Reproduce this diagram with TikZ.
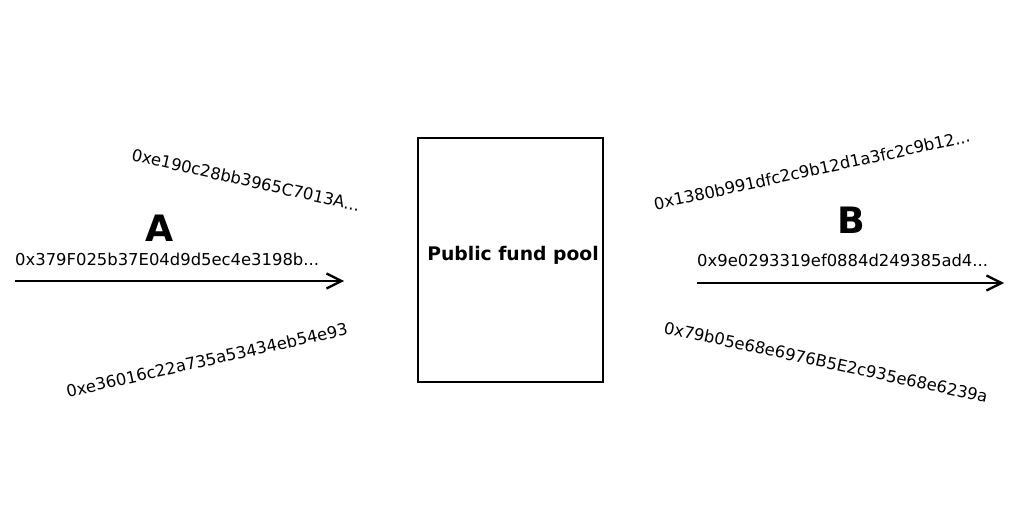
\documentclass[tikz,border=0pt]{standalone}
\usepackage{fontspec}
\setmainfont{DejaVu Sans}
\usetikzlibrary{positioning, arrows.meta}
\tikzset{
  hash/.style={inner sep=0pt, font=\fontsize{14}{16}\selectfont},
  party/.style={inner sep=0pt, font=\fontsize{31}{33}\selectfont\bfseries},
  pool/.style={draw, line width=1.5pt, minimum width=185*0.03cm, minimum height=244*0.03cm, font=\fontsize{16}{18}\selectfont\bfseries},
  flow/.style={-{Straight Barb[length=4.5mm, width=4.5mm]}, line width=2pt}
}

\begin{document}
\begin{tikzpicture}[x=0.03cm, y=-0.03cm]
  \useasboundingbox (0,0) rectangle (1024,512);
  \node [pool] (pool) at (510.5,260) {};
  \node (pool label) at (513,255) [font=\fontsize{16}{18}\selectfont\bfseries] {Public fund pool};
  % left side
  \node [party] (A) at (160,228) {A};
  \node [hash, anchor=west] (a0) at (15,259) {0x379F025b37E04d9d5ec4e3198b...};
  \node [hash, rotate=-12.7] (a1) at (246,180) {0xe190c28bb3965C7013A...};
  \node [hash, rotate=12.6] (a2) at (207,360) {0xe36016c22a735a53434eb54e93};
  \coordinate (a in) at (15,281);
  \coordinate (a out) at (344,281);
  % right side
  \node [party] (B) at (851,220) {B};
  \node [hash, anchor=west] (b0) at (697,260) {0x9e0293319ef0884d249385ad4...};
  \node [hash, rotate=12.2] (b1) at (812,170) {0x1380b991dfc2c9b12d1a3fc2c9b12...};
  \node [hash, rotate=-12.2] (b2) at (826,362) {0x79b05e68e6976B5E2c935e68e6239a};
  \coordinate (b in) at (697,283);
  \coordinate (b out) at (1004,283);
  \path[flow]
    (a in) edge (a out)
    (b in) edge (b out);
\end{tikzpicture}
\end{document}
